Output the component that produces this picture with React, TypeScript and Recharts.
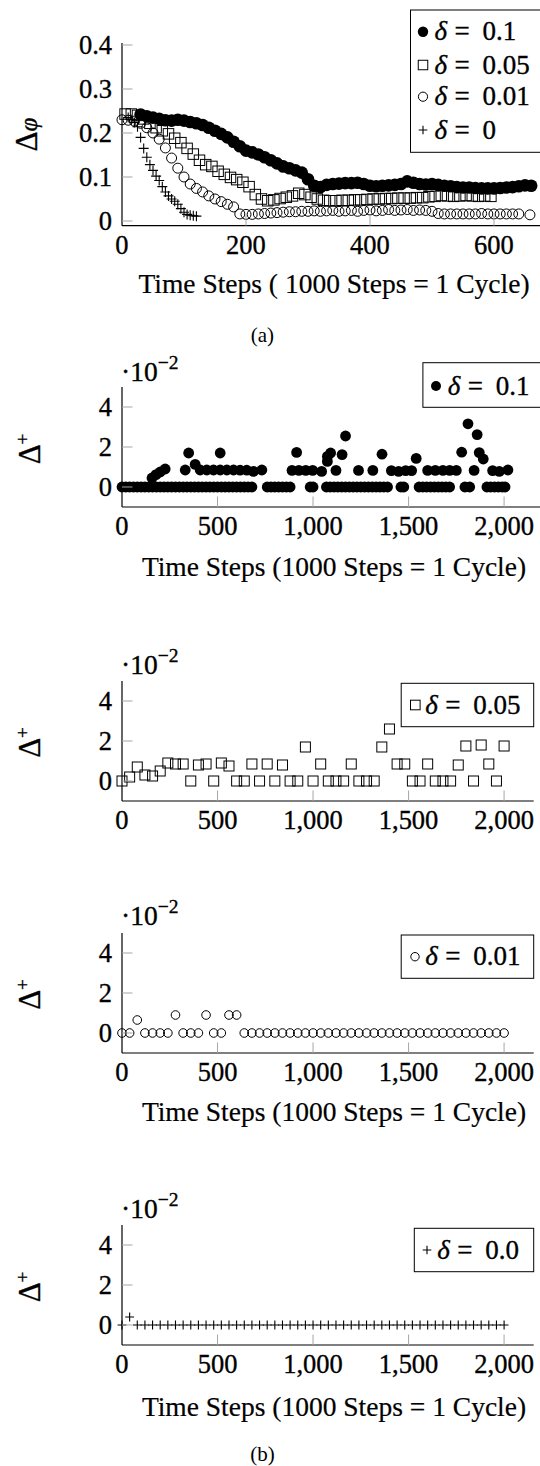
import React from 'react';
import { ScatterChart, Scatter, XAxis, YAxis } from 'recharts';

const SERIF = "'Liberation Serif', 'Times New Roman', serif";
// slight outline so the glyphs carry the weight of the LaTeX original
const INK = { fill: '#000', stroke: '#000', strokeWidth: 0.35 };

// ---------- (a) Δφ over time steps ----------
const A_X_TICKS = [0, 200, 400, 600];
const A_X_LABELS = ['0', '200', '400', '600'];
const A_Y_TICKS = [0, 0.1, 0.2, 0.3, 0.4];
const A_Y_LABELS = ['0', '0.1', '0.2', '0.3', '0.4'];

// δ = 0.1 (filled circles)
const A_D01: [number, number][] = [
  [30, 0.242], [40, 0.238], [50, 0.235], [60, 0.232], [70, 0.229], [80, 0.228], [90, 0.23], [100, 0.228],
  [110, 0.225], [120, 0.222], [130, 0.218], [140, 0.212], [150, 0.205], [160, 0.198], [170, 0.19], [180, 0.18],
  [190, 0.17], [200, 0.16], [210, 0.156], [220, 0.151], [230, 0.145], [240, 0.138], [250, 0.131], [260, 0.124],
  [270, 0.12], [280, 0.115], [290, 0.11], [300, 0.095], [310, 0.08], [320, 0.077], [330, 0.082], [340, 0.084],
  [350, 0.085], [360, 0.086], [370, 0.086], [380, 0.087], [390, 0.084], [400, 0.08], [410, 0.079], [420, 0.08],
  [430, 0.081], [440, 0.082], [450, 0.084], [460, 0.09], [470, 0.087], [480, 0.084], [490, 0.083], [500, 0.084],
  [510, 0.082], [520, 0.08], [530, 0.079], [540, 0.077], [550, 0.076], [560, 0.076], [570, 0.075], [580, 0.074],
  [590, 0.074], [600, 0.074], [610, 0.075], [620, 0.076], [630, 0.077], [640, 0.079], [650, 0.081], [660, 0.08],
];

// δ = 0.05 (open squares)
const A_D005: [number, number][] = [
  [5, 0.243], [15, 0.243], [25, 0.24], [35, 0.232], [45, 0.222], [55, 0.212], [65, 0.205], [75, 0.198],
  [85, 0.188], [95, 0.178], [105, 0.165], [115, 0.152], [125, 0.138], [135, 0.128], [145, 0.124], [155, 0.113],
  [165, 0.106], [175, 0.099], [185, 0.094], [195, 0.088], [205, 0.078], [215, 0.06], [225, 0.05], [235, 0.046],
  [245, 0.048], [255, 0.051], [265, 0.054], [275, 0.057], [285, 0.063], [295, 0.06], [305, 0.054], [315, 0.05],
  [325, 0.047], [335, 0.046], [345, 0.046], [355, 0.047], [365, 0.047], [375, 0.048], [385, 0.048], [395, 0.049],
  [405, 0.05], [415, 0.05], [425, 0.051], [435, 0.051], [445, 0.052], [455, 0.052], [465, 0.052], [475, 0.053],
  [485, 0.053], [495, 0.055], [505, 0.056], [515, 0.058], [525, 0.057], [535, 0.056], [545, 0.057], [555, 0.058],
  [565, 0.057], [575, 0.056], [585, 0.057], [595, 0.056],
];

// δ = 0.01 (open circles)
const A_D001: [number, number][] = [
  [0, 0.23], [10, 0.229], [20, 0.227], [30, 0.222], [40, 0.212], [50, 0.2], [60, 0.186], [70, 0.166],
  [80, 0.143], [90, 0.12], [100, 0.1], [110, 0.084], [120, 0.074], [130, 0.066], [140, 0.057], [150, 0.05],
  [160, 0.044], [170, 0.038], [180, 0.032], [190, 0.016], [200, 0.015], [210, 0.015], [220, 0.016], [230, 0.017],
  [240, 0.018], [250, 0.019], [260, 0.02], [270, 0.021], [280, 0.021], [290, 0.022], [300, 0.022], [310, 0.023],
  [320, 0.022], [330, 0.023], [340, 0.024], [350, 0.022], [360, 0.023], [370, 0.024], [380, 0.022], [390, 0.024],
  [400, 0.025], [410, 0.023], [420, 0.024], [430, 0.026], [440, 0.024], [450, 0.025], [460, 0.026], [470, 0.024],
  [480, 0.025], [490, 0.024], [500, 0.022], [510, 0.017], [520, 0.016], [530, 0.016], [540, 0.016], [550, 0.016],
  [560, 0.016], [570, 0.016], [580, 0.017], [590, 0.016], [600, 0.016], [610, 0.016], [620, 0.016], [630, 0.016],
  [640, 0.016], [658, 0.014],
];

// δ = 0 (plus)
const A_D0: [number, number][] = [
  [10, 0.235], [15, 0.23], [20, 0.224], [25, 0.214], [30, 0.19], [35, 0.165], [40, 0.145], [45, 0.128],
  [50, 0.115], [55, 0.102], [60, 0.092], [65, 0.078], [70, 0.066], [75, 0.057], [80, 0.05], [85, 0.045],
  [90, 0.038], [95, 0.028], [100, 0.02], [105, 0.015], [110, 0.013], [115, 0.012], [120, 0.011],
];

// ---------- (b) Δ+ (×10^-2) over time steps ----------
const B_X_TICKS = [0, 500, 1000, 1500, 2000];
const B_X_LABELS = ['0', '500', '1,000', '1,500', '2,000'];
const B_Y_TICKS = [0, 2, 4];
const B_Y_LABELS = ['0', '2', '4'];

// δ = 0.1: irregular samples
const B1_ZERO_X = [
  0, 20, 40, 60, 80, 100, 120, 140, 160, 180, 200, 220, 240, 260, 280, 300, 320, 340, 360, 380, 400, 420,
  440, 460, 480, 500, 520, 540, 560, 580, 600, 620, 640, 660, 680,
  760, 780, 800, 820, 840, 860, 880, 985, 1000,
  1070, 1090, 1110, 1130, 1150, 1170, 1190, 1210, 1230, 1250, 1270, 1290, 1310, 1330, 1350, 1370, 1390,
  1460, 1475, 1555, 1575, 1595, 1615, 1635, 1655, 1675, 1695, 1715, 1795, 1820,
  1910, 1930, 1950, 1970, 1990, 2005,
];
const B1_UPPER: [number, number][] = [
  [157, 0.45], [178, 0.62], [200, 0.75], [226, 0.9], [331, 0.85], [349, 1.7], [383, 1.13], [409, 0.85],
  [444, 0.85], [479, 0.85], [514, 1.7], [514, 0.85], [549, 0.85], [584, 0.85], [618, 0.84], [653, 0.84],
  [688, 0.78], [732, 0.85], [890, 0.83], [914, 1.73], [926, 0.83], [962, 0.83], [998, 0.83], [1045, 0.78],
  [1075, 1.53], [1075, 1.28], [1092, 1.7], [1120, 0.83], [1152, 1.62], [1170, 2.55], [1238, 0.83], [1313, 0.83],
  [1361, 1.64], [1410, 0.82], [1448, 0.78], [1485, 0.82], [1516, 0.82], [1540, 1.43], [1600, 0.83], [1640, 0.83],
  [1680, 0.83], [1715, 0.83], [1750, 0.83], [1778, 1.74], [1811, 3.16], [1843, 0.83], [1859, 2.62], [1870, 1.72],
  [1891, 1.4], [1940, 0.82], [1975, 0.78], [2020, 0.85],
];

// δ = 0.05, 0.01, 0: sampled every 40 steps
const B_STEPS = [
  0, 40, 80, 120, 160, 200, 240, 280, 320, 360, 400, 440, 480, 520, 560, 600, 640, 680, 720, 760, 800, 840,
  880, 920, 960, 1000, 1040, 1080, 1120, 1160, 1200, 1240, 1280, 1320, 1360, 1400, 1440, 1480, 1520, 1560,
  1600, 1640, 1680, 1720, 1760, 1800, 1840, 1880, 1920, 1960, 2000,
];
const B2_VALUES = [
  0, 0.2, 0.7, 0.3, 0.25, 0.5, 0.9, 0.85, 0.85, 0, 0.8, 0.85, 0, 0.9, 0.75, 0, 0, 0.85, 0, 0.85, 0, 0.8,
  0, 0, 1.7, 0, 0.85, 0, 0, 0, 0.85, 0, 0, 0, 1.7, 2.6, 0.85, 0.85, 0, 0,
  0.85, 0, 0, 0, 0.8, 1.75, 0, 1.8, 0.85, 0, 1.75,
];
const B3_VALUES = [
  0, 0, 0.65, 0, 0, 0, 0, 0.9, 0, 0, 0, 0.9, 0, 0, 0.9, 0.9, 0, 0, 0, 0, 0, 0,
  0, 0, 0, 0, 0, 0, 0, 0, 0, 0, 0, 0, 0, 0, 0, 0, 0, 0,
  0, 0, 0, 0, 0, 0, 0, 0, 0, 0, 0,
];
const B4_VALUES = [
  0, 0.4, 0, 0, 0, 0, 0, 0, 0, 0, 0, 0, 0, 0, 0, 0, 0, 0, 0, 0, 0, 0,
  0, 0, 0, 0, 0, 0, 0, 0, 0, 0, 0, 0, 0, 0, 0, 0, 0, 0,
  0, 0, 0, 0, 0, 0, 0, 0, 0, 0, 0,
];

const pairs = (d: [number, number][]) => d.map(([x, y]) => ({ x, y }));
const zip = (xs: number[], ys: number[]) => xs.map((x, i) => ({ x, y: ys[i] }));

// ---------- geometry ----------
const AX0 = 122; // y axis position (px)
const PAD_T = 14;
const PAD_R = 16;
const XH = 50;
const TICK_LEN = 10.5;
const TICK_COLOR = '#a6a6a6';
const TICK_FS = 26.5;
const AXIS_LINE = { stroke: '#000', strokeWidth: 1.2 };

// marker shapes
const dot = (r: number) => (p: any) => <circle cx={p.cx} cy={p.cy} r={r} fill="#000" />;
const ring = (r: number) => (p: any) => (
  <circle cx={p.cx} cy={p.cy} r={r} fill="none" stroke="#000" strokeWidth={1} />
);
const box = (s: number) => (p: any) => (
  <rect x={p.cx - s / 2} y={p.cy - s / 2} width={s} height={s} fill="none" stroke="#000" strokeWidth={1} />
);
const plus = (a: number) => (p: any) => (
  <path d={`M${p.cx - a},${p.cy}H${p.cx + a}M${p.cx},${p.cy - a}V${p.cy + a}`} stroke="#000" strokeWidth={1.1} fill="none" />
);

function xTick(ticks: number[], labels: string[]) {
  return (props: any) => {
    const { x, y, payload } = props;
    const i = ticks.indexOf(payload.value);
    return (
      <g>
        {payload.value !== 0 && (
          <line x1={x} x2={x} y1={y} y2={y - TICK_LEN} stroke={TICK_COLOR} strokeWidth={1} />
        )}
        <text x={x} y={y + 28.5} textAnchor="middle" style={{ fontFamily: SERIF, fontSize: TICK_FS }} {...INK}>
          {labels[i]}
        </text>
      </g>
    );
  };
}

function yTick(ticks: number[], labels: string[]) {
  return (props: any) => {
    const { x, y, payload } = props;
    const i = ticks.indexOf(payload.value);
    return (
      <g>
        <line x1={x} x2={x + TICK_LEN} y1={y} y2={y} stroke={TICK_COLOR} strokeWidth={1} />
        <text x={x - 10} y={y + 9} textAnchor="end" style={{ fontFamily: SERIF, fontSize: TICK_FS }} {...INK}>
          {labels[i]}
        </text>
      </g>
    );
  };
}

type PanelProps = {
  top: number;
  height: number;
  xScale: number;
  xMax: number;
  yDomain: [number, number];
  xTicks: number[];
  xLabels: string[];
  yTicks: number[];
  yLabels: string[];
  children: React.ReactNode;
};

function Panel(p: PanelProps) {
  const right = AX0 + p.xMax * p.xScale;
  return (
    <div style={{ position: 'absolute', left: 0, top: p.top - PAD_T }}>
      <ScatterChart
        width={right + PAD_R}
        height={PAD_T + p.height + XH}
        margin={{ top: PAD_T, right: PAD_R, bottom: 0, left: 0 }}
      >
        <XAxis
          type="number"
          dataKey="x"
          domain={[0, p.xMax]}
          ticks={p.xTicks}
          interval={0}
          tick={xTick(p.xTicks, p.xLabels)}
          tickLine={false}
          tickSize={0}
          tickMargin={0}
          axisLine={AXIS_LINE}
          height={XH}
        />
        <YAxis
          type="number"
          dataKey="y"
          domain={p.yDomain}
          ticks={p.yTicks}
          interval={0}
          tick={yTick(p.yTicks, p.yLabels)}
          tickLine={false}
          tickSize={0}
          tickMargin={0}
          axisLine={AXIS_LINE}
          width={AX0}
        />
        {p.children}
      </ScatterChart>
    </div>
  );
}

// ---------- overlay text ----------
function LegendRow({ cy, mx, tx, marker, value }: { cy: number; mx: number; tx: number; marker: (p: any) => React.ReactNode; value: string }) {
  return (
    <g>
      {marker({ cx: mx, cy })}
      <text x={tx} y={cy + 8.5} style={{ fontFamily: SERIF, fontSize: 27 }} {...INK}>
        <tspan fontStyle="italic">δ</tspan>
        <tspan x={tx + 20}>=</tspan>
        <tspan x={tx + 48}>{value}</tspan>
      </text>
    </g>
  );
}

function XLabel({ y, text }: { y: number; text: string }) {
  return (
    <text x={334} y={y + 9} textAnchor="middle" style={{ fontFamily: SERIF, fontSize: 27.5 }} {...INK} strokeWidth={0.2}>
      {text}
    </text>
  );
}

function DeltaPlus({ cy }: { cy: number }) {
  const cx = 39.5;
  return (
    <text x={cx} y={cy} transform={`rotate(-90 ${cx} ${cy})`} textAnchor="middle" style={{ fontFamily: SERIF, fontSize: 31 }} {...INK}>
      Δ<tspan dy={-11} style={{ fontSize: 19 }}>+</tspan>
    </text>
  );
}

function Exponent({ y }: { y: number }) {
  return (
    <text x={121} y={y} style={{ fontFamily: SERIF, fontSize: 27.5 }} {...INK}>
      ·10<tspan dy={-12} style={{ fontSize: 19.5 }}>−2</tspan>
    </text>
  );
}

const A_TOP = 43.3;
const A_H = 182.7;
const B_TOPS = [387.3, 680.7, 932.5, 1225];
const B_H = 120;
const B_SCALE = 0.19105;

export default function App() {
  return (
    <div style={{ position: 'absolute', left: 0, top: 0, width: 540, height: 1466, overflow: 'hidden', background: '#fff' }}>
      <Panel
        top={A_TOP}
        height={A_H}
        xScale={0.62}
        xMax={682}
        yDomain={[-0.0107, 0.4045]}
        xTicks={A_X_TICKS}
        xLabels={A_X_LABELS}
        yTicks={A_Y_TICKS}
        yLabels={A_Y_LABELS}
      >
        <Scatter data={pairs(A_D0)} shape={plus(5)} isAnimationActive={false} />
        <Scatter data={pairs(A_D001)} shape={ring(5)} isAnimationActive={false} />
        <Scatter data={pairs(A_D005)} shape={box(10.5)} isAnimationActive={false} />
        <Scatter data={pairs(A_D01)} shape={dot(6.3)} isAnimationActive={false} />
      </Panel>

      <Panel top={B_TOPS[0]} height={B_H} xScale={B_SCALE} xMax={2230} yDomain={[-1, 5]}
        xTicks={B_X_TICKS} xLabels={B_X_LABELS} yTicks={B_Y_TICKS} yLabels={B_Y_LABELS}>
        <Scatter data={[...B1_ZERO_X.map((x) => ({ x, y: 0 })), ...pairs(B1_UPPER)]} shape={dot(5.4)} isAnimationActive={false} />
      </Panel>

      <Panel top={B_TOPS[1]} height={B_H} xScale={B_SCALE} xMax={2155} yDomain={[-1, 5]}
        xTicks={B_X_TICKS} xLabels={B_X_LABELS} yTicks={B_Y_TICKS} yLabels={B_Y_LABELS}>
        <Scatter data={zip(B_STEPS, B2_VALUES)} shape={box(10)} isAnimationActive={false} />
      </Panel>

      <Panel top={B_TOPS[2]} height={B_H} xScale={B_SCALE} xMax={2155} yDomain={[-1, 5]}
        xTicks={B_X_TICKS} xLabels={B_X_LABELS} yTicks={B_Y_TICKS} yLabels={B_Y_LABELS}>
        <Scatter data={zip(B_STEPS, B3_VALUES)} shape={ring(4.3)} isAnimationActive={false} />
      </Panel>

      <Panel top={B_TOPS[3]} height={B_H} xScale={B_SCALE} xMax={2155} yDomain={[-1, 5]}
        xTicks={B_X_TICKS} xLabels={B_X_LABELS} yTicks={B_Y_TICKS} yLabels={B_Y_LABELS}>
        <Scatter data={zip(B_STEPS, B4_VALUES)} shape={plus(4.4)} isAnimationActive={false} />
      </Panel>

      <svg width={540} height={1466} style={{ position: 'absolute', left: 0, top: 0, pointerEvents: 'none' }}>
        {/* (a) */}
        <text x={36.5} y={134.5} transform="rotate(-90 36.5 134.5)" textAnchor="middle" style={{ fontFamily: SERIF, fontSize: 31 }} {...INK}>
          Δ<tspan fontStyle="italic" style={{ fontSize: 25 }}>φ</tspan>
        </text>
        <XLabel y={284} text="Time Steps ( 1000 Steps = 1 Cycle)" />
        <rect x={410.5} y={10} width={150} height={142.3} fill="#fff" stroke="#000" strokeWidth={1} />
        <LegendRow cy={31.7} mx={423} tx={434.6} marker={dot(5.2)} value="0.1" />
        <LegendRow cy={65} mx={423} tx={434.6} marker={box(9.5)} value="0.05" />
        <LegendRow cy={96.7} mx={423} tx={434.6} marker={ring(4.6)} value="0.01" />
        <LegendRow cy={130} mx={423} tx={434.6} marker={plus(4.3)} value="0" />
        <text x={262.4} y={342} textAnchor="middle" style={{ fontFamily: SERIF, fontSize: 21 }} fill="#000">(a)</text>

        {/* (b) panel 1 */}
        <Exponent y={380.5} />
        <DeltaPlus cy={449} />
        <XLabel y={566.7} text="Time Steps (1000 Steps = 1 Cycle)" />
        <rect x={422.9} y={362.7} width={140} height={44.6} fill="#fff" stroke="#000" strokeWidth={1} />
        <LegendRow cy={386} mx={436} tx={447.7} marker={dot(5)} value="0.1" />

        {/* (b) panel 2 */}
        <Exponent y={673.5} />
        <DeltaPlus cy={742.5} />
        <rect x={401.2} y={683.3} width={132.5} height={43.4} fill="#fff" stroke="#000" strokeWidth={1} />
        <LegendRow cy={705} mx={415.3} tx={425.3} marker={box(9.6)} value="0.05" />

        {/* (b) panel 3 */}
        <Exponent y={925} />
        <DeltaPlus cy={994.5} />
        <XLabel y={1111.7} text="Time Steps (1000 Steps = 1 Cycle)" />
        <rect x={401.2} y={935} width={132.5} height={43.3} fill="#fff" stroke="#000" strokeWidth={1} />
        <LegendRow cy={956.7} mx={415} tx={425.3} marker={ring(4.2)} value="0.01" />

        {/* (b) panel 4 */}
        <Exponent y={1218} />
        <DeltaPlus cy={1287} />
        <XLabel y={1406.7} text="Time Steps (1000 Steps = 1 Cycle)" />
        <rect x={414.3} y={1228.3} width={119.4} height={43.4} fill="#fff" stroke="#000" strokeWidth={1} />
        <LegendRow cy={1250} mx={427} tx={437.3} marker={plus(4.3)} value="0.0" />
        <text x={262.4} y={1461} textAnchor="middle" style={{ fontFamily: SERIF, fontSize: 21 }} fill="#000">(b)</text>
      </svg>
    </div>
  );
}
